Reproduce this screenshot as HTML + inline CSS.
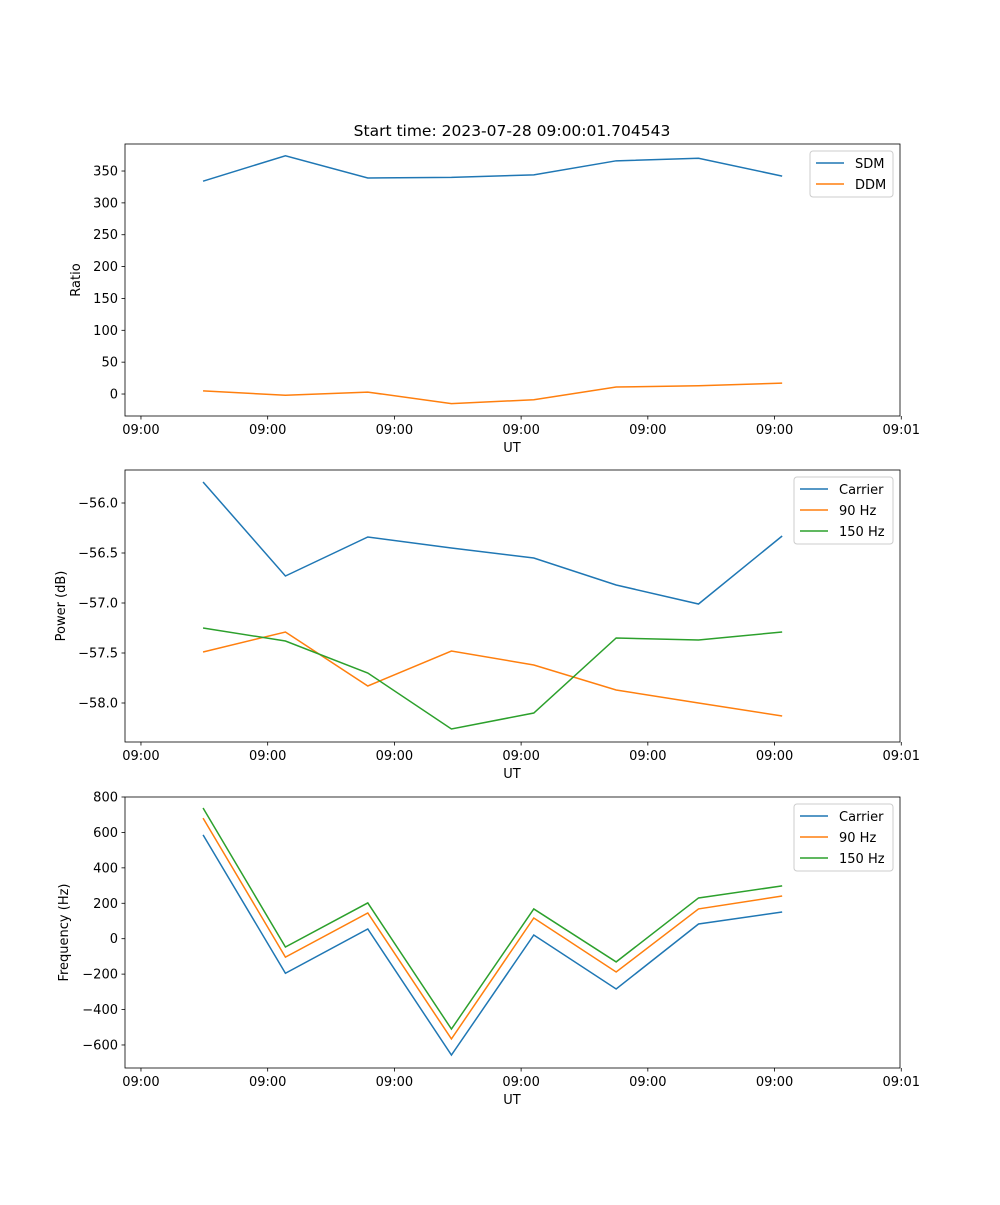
<!DOCTYPE html>
<html><head><meta charset="utf-8"><style>
body{margin:0;background:#fff}
svg text{font-family:"DejaVu Sans","Liberation Sans",sans-serif;font-size:13px;fill:#000}
</style></head><body>
<svg id="fig" width="1000" height="1200" xmlns="http://www.w3.org/2000/svg">
<text x="512" y="136" text-anchor="middle" style="font-size:15.5px">Start time: 2023-07-28 09:00:01.704543</text>
</svg>
<script>
const times=[4.9,11.4,17.9,24.5,31.0,37.5,44.0,50.6];
const xTicks=[0,10,20,30,40,50,60];
const xTickLabels=["09:00","09:00","09:00","09:00","09:00","09:00","09:01"];
const sdm=[334,374,339,340,344,366,370,342];
const ddm=[5,-2,3,-15,-9,11,13,17];
const powCarrier=[-55.79,-56.73,-56.34,-56.45,-56.55,-56.82,-57.01,-56.33];
const pow90=[-57.49,-57.29,-57.83,-57.48,-57.62,-57.87,-58.0,-58.13];
const pow150=[-57.25,-57.38,-57.70,-58.26,-58.10,-57.35,-57.37,-57.29];
const freqCarrier=[586,-195,55,-657,21,-284,83,151];
const freq90=[681,-104,145,-566,117,-188,168,241];
const freq150=[738,-47,202,-510,168,-131,230,298];
const yTicks1=[0,50,100,150,200,250,300,350];
const yTicks2=[-58.0,-57.5,-57.0,-56.5,-56.0];
const yTicks3=[-600,-400,-200,0,200,400,600,800];
const C=["#1f77b4","#ff7f0e","#2ca02c"];
const svg=document.getElementById('fig');
const NS="http://www.w3.org/2000/svg";
function mk(t,a,p){const e=document.createElementNS(NS,t);for(const k in a)e.setAttribute(k,a[k]);(p||svg).appendChild(e);return e;}
const L=125,R=900,X0=-1.26,X1=59.9;
const xs=t=>L+(t-X0)/(X1-X0)*(R-L);
function panel(id,top,bot,y0,y1,yt,fmt,ylabel,series,names,legW,pi){
  const g=mk('g',{});
  
  
  const ys=v=>bot-(v-y0)/(y1-y0)*(bot-top);
  series.forEach((s,i)=>{
    const p=mk('polyline',{points:s.map((v,j)=>xs(times[j])+','+ys(v)).join(' '),fill:'none',stroke:C[i],'stroke-width':1.5},g);
    
    
  });
  mk('rect',{x:L,y:top,width:R-L,height:bot-top,fill:'none',stroke:'#000','stroke-width':0.8},g);
  xTicks.forEach((t,i)=>{const x=xs(t);mk('line',{x1:x,x2:x,y1:bot,y2:bot+3.5,stroke:'#000','stroke-width':0.8},g);
    const tx=mk('text',{x:x,y:bot+18,'text-anchor':'middle'},g);tx.textContent=xTickLabels[i];});
  yt.forEach(v=>{const y=ys(v);mk('line',{x1:L-3.5,x2:L,y1:y,y2:y,stroke:'#000','stroke-width':0.8},g);
    const tx=mk('text',{x:L-7,y:y+4.5,'text-anchor':'end'},g);tx.textContent=fmt(v);});
  const xl=mk('text',{x:512,y:bot+36,'text-anchor':'middle'},g);xl.textContent='UT';
  
  const lx=pi==0?80:pi==1?65:68;
  const yl=mk('text',{x:lx,y:(top+bot)/2,'text-anchor':'middle',transform:`rotate(-90 ${lx} ${(top+bot)/2})`},g);yl.textContent=ylabel;
  
  const lg=mk('g',{},g);
  
  
  const bx=R-7-legW,by=top+7,h=4+names.length*21;
  mk('rect',{x:bx,y:by,width:legW,height:h,rx:3,fill:'#fff',stroke:'#ccc','stroke-width':1},lg);
  names.forEach((n,i)=>{const y=by+12+i*21;
    mk('line',{x1:bx+6,x2:bx+34,y1:y,y2:y,stroke:C[i],'stroke-width':1.5},lg);
    const t=mk('text',{x:bx+45,y:y+5},lg);t.textContent=n;});
}
panel('ratio',144,416,-34.5,392.4,yTicks1,v=>v<0?'\u2212'+(-v):String(v),'Ratio',[sdm,ddm],['SDM','DDM'],83,0);
panel('power',470,742,-58.39,-55.67,yTicks2,v=>'\u2212'+(-v).toFixed(1),'Power (dB)',[powCarrier,pow90,pow150],['Carrier','90 Hz','150 Hz'],99,1);
panel('frequency',797,1068,-730,800,yTicks3,v=>v<0?'\u2212'+(-v):String(v),'Frequency (Hz)',[freqCarrier,freq90,freq150],['Carrier','90 Hz','150 Hz'],99,2);
</script>
</body></html>
